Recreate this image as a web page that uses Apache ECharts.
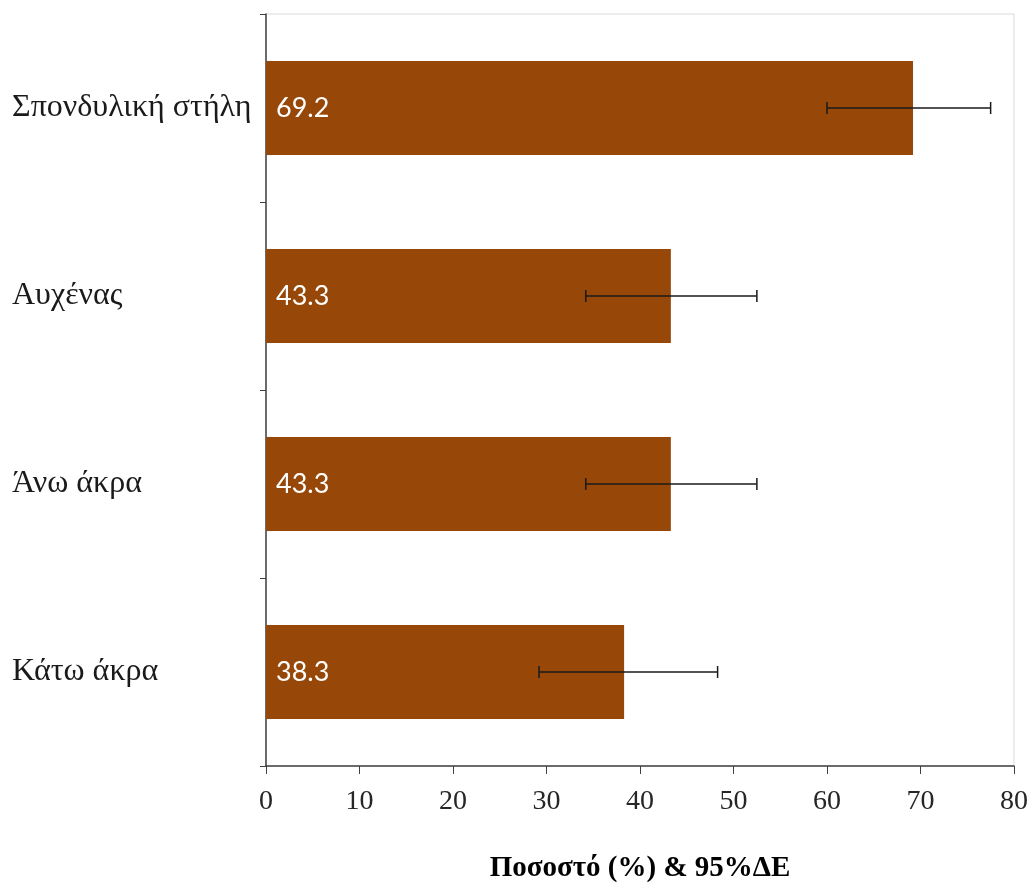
<!DOCTYPE html>
<html>
<head>
<meta charset="utf-8">
<script src="https://cdn.jsdelivr.net/npm/echarts@6/dist/echarts.min.js"></script>
<style>html,body{margin:0;padding:0;background:#fff}#c{width:1033px;height:885px}</style>
</head>
<body>
<div id="c"></div>
<script>
const categories = ["Σπονδυλική στήλη", "Αυχένας", "Άνω άκρα", "Κάτω άκρα"];
const values = [69.2, 43.3, 43.3, 38.3];
const lower = [60.0, 34.2, 34.2, 29.2];
const upper = [77.5, 52.5, 52.5, 48.3];
const xTicks = [0, 10, 20, 30, 40, 50, 60, 70, 80];
const xTitle = "Ποσοστό (%) & 95%ΔΕ";

const chart = echarts.init(document.getElementById('c'));
const serif = '"Liberation Serif", "DejaVu Serif", serif';
chart.setOption({
  animation: false,
  backgroundColor: '#fff',
  grid: { left: 266, right: 19, top: 14, bottom: 119, show: true, borderColor: '#d9d9d9', borderWidth: 1, containLabel: false, outerBoundsMode: 'none' },
  xAxis: {
    type: 'value', min: xTicks[0], max: xTicks[xTicks.length - 1], interval: 10,
    name: xTitle, nameLocation: 'middle', nameGap: 88,
    nameTextStyle: { fontFamily: serif, fontSize: 29, fontWeight: 'bold', color: '#000' },
    axisLine: { show: true, onZero: false, lineStyle: { color: '#404040', width: 1.5 } },
    axisTick: { show: true, length: 8, lineStyle: { color: '#404040' } },
    axisLabel: { fontFamily: serif, fontSize: 28, color: '#262626', margin: 22 },
    splitLine: { show: false }
  },
  yAxis: {
    type: 'category', data: categories, inverse: true,
    axisLine: { show: true, lineStyle: { color: '#404040', width: 1.5 } },
    axisTick: { show: true, length: 6, alignWithLabel: false, lineStyle: { color: '#404040' } },
    axisLabel: { fontFamily: serif, fontSize: 32, color: '#1a1a1a', margin: 254, align: 'left' }
  },
  series: [
    {
      type: 'bar', data: values, barCategoryGap: '50%',
      itemStyle: { color: '#974707' },
      label: {
        show: true, position: 'insideLeft', distance: 10,
        formatter: p => p.value.toFixed(1),
        fontFamily: 'Lato, "Open Sans", sans-serif', fontSize: 27, color: '#fff'
      }
    },
    {
      type: 'custom',
      data: categories.map((c, i) => [lower[i], upper[i], i]),
      encode: { x: [0, 1], y: 2 },
      z: 10,
      renderItem: function (params, api) {
        const p1 = api.coord([api.value(0), api.value(2)]);
        const p2 = api.coord([api.value(1), api.value(2)]);
        const h = 6;
        const style = { stroke: '#1a1a1a', lineWidth: 1.5 };
        return {
          type: 'group',
          children: [
            { type: 'line', shape: { x1: p1[0], y1: p1[1], x2: p2[0], y2: p2[1] }, style },
            { type: 'line', shape: { x1: p1[0], y1: p1[1] - h, x2: p1[0], y2: p1[1] + h }, style },
            { type: 'line', shape: { x1: p2[0], y1: p2[1] - h, x2: p2[0], y2: p2[1] + h }, style }
          ]
        };
      }
    }
  ]
});
</script>
</body>
</html>
